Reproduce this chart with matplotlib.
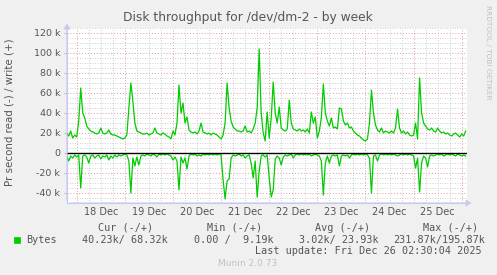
import matplotlib
matplotlib.use("Agg")
import matplotlib.pyplot as plt
from matplotlib.patches import Rectangle, FancyArrowPatch
from matplotlib.transforms import blended_transform_factory
import numpy as np

W, H = 497, 275

# hourly samples, starting 5h before Dec 18 00:00 (values in k bytes/s)
write_k = [20, 17, 22, 15, 18, 16, 32, 65, 40, 35, 27, 24, 22, 21, 20, 19, 20, 25, 20, 19,
           20, 23, 19, 18, 18, 17, 16, 15, 14, 15, 18, 45, 70, 52, 30, 22, 21, 20, 19, 19,
           20, 18, 19, 20, 25, 20, 19, 18, 20, 19, 17, 16, 14, 22, 18, 30, 68, 40, 50, 30,
           36, 23, 21, 20, 21, 19, 22, 30, 21, 20, 19, 20, 18, 20, 19, 18, 16, 14, 18, 30,
           70, 45, 32, 26, 24, 22, 22, 21, 22, 27, 21, 22, 20, 24, 30, 45, 104, 40, 20, 12,
           41, 15, 35, 71, 40, 30, 46, 25, 23, 22, 24, 53, 30, 24, 23, 22, 24, 22, 23, 21,
           24, 20, 41, 30, 36, 15, 22, 35, 69, 40, 32, 27, 35, 25, 26, 24, 45, 44, 32, 28,
           30, 25, 26, 22, 20, 18, 17, 15, 13, 12, 14, 30, 63, 40, 28, 23, 21, 25, 20, 22,
           21, 20, 22, 20, 25, 44, 25, 20, 22, 19, 21, 18, 17, 18, 30, 14, 75, 40, 30, 27,
           24, 23, 25, 22, 21, 25, 22, 20, 21, 19, 20, 18, 17, 19, 20, 18, 16, 19, 17, 22]

read_k = [3, 8, 3, 5, 2, 4, 2, 35, 3, 2, 4, 10, 3, 2, 5, 3, 2, 6, 3, 4,
          2, 7, 3, 5, 2, 4, 2, 3, 2, 1, 2, 8, 40, 5, 13, 4, 12, 3, 2, 3,
          1, 2, 3, 1, 2, 4, 1, 2, 1, 2, 1, 2, 3, 7, 4, 8, 37, 4, 10, 5,
          16, 3, 1, 2, 1, 3, 2, 3, 1, 2, 1, 2, 1, 2, 1, 2, 1, 2, 27, 46,
          28, 26, 5, 2, 3, 2, 1, 3, 2, 5, 3, 2, 10, 25, 8, 44, 18, 3, 2, 4,
          2, 25, 44, 37, 6, 3, 5, 12, 4, 2, 3, 2, 1, 5, 2, 1, 2, 1, 2, 1,
          2, 1, 3, 2, 1, 2, 3, 8, 42, 10, 3, 10, 3, 2, 3, 2, 13, 3, 2, 3,
          2, 5, 2, 1, 2, 1, 2, 1, 2, 1, 2, 5, 40, 3, 2, 8, 2, 1, 2, 1,
          2, 1, 2, 1, 2, 3, 2, 1, 2, 1, 2, 1, 2, 3, 15, 5, 39, 10, 3, 5,
          14, 3, 2, 3, 2, 1, 2, 1, 3, 2, 1, 2, 1, 2, 3, 1, 2, 3, 2, 3]

days = ["18 Dec", "19 Dec", "20 Dec", "21 Dec", "22 Dec", "23 Dec", "24 Dec", "25 Dec"]
y_ticks = [-40, -20, 0, 20, 40, 60, 80, 100, 120]

headers = ["Cur (-/+)", "Min (-/+)", "Avg (-/+)", "Max (-/+)"]
values = ["40.23k/ 68.32k", "0.00 /  9.19k", "3.02k/ 23.93k", "231.87k/195.87k"]

hours = np.arange(len(write_k)) - 5.0
write = np.array(write_k)
read = -np.array(read_k)

GREEN = "#00CC00"
TXT = "#555555"
BG = "#F0F0F0"


def fx(x):
    return x / W


def fy(y):
    return 1 - y / H


fig = plt.figure(figsize=(W / 100, H / 100), dpi=100, facecolor=BG)
ax = fig.add_axes([fx(67), fy(203), fx(467) - fx(67), fy(28) - fy(203)])
ax.set_facecolor("white")
ax.set_xlim(-4.85, 194.65)
ax.set_ylim(-50, 125)

# grid
for h in np.arange(-0, 195, 6):
    if h % 24 != 0:
        ax.axvline(h, color="#c0c0c0", lw=0.6, ls=(0, (1, 2)), zorder=1)
for v in np.arange(-45, 126, 5):
    if v % 20 != 0:
        ax.axhline(v, color="#c0c0c0", lw=0.6, ls=(0, (1, 2)), zorder=1)
for h in np.arange(0, 195, 24):
    ax.axvline(h, color="#dc9c9c", lw=0.7, ls=(0, (1, 2)), zorder=1)
for v in y_ticks:
    if v != 0:
        ax.axhline(v, color="#dc9c9c", lw=0.7, ls=(0, (1, 2)), zorder=1)

ax.plot(hours, write, color=GREEN, lw=0.9, zorder=3)
ax.plot(hours, read, color=GREEN, lw=0.9, zorder=3)
ax.axhline(0, color="black", lw=1.0, zorder=4)

ax.set_yticks(y_ticks)
ax.set_yticklabels([("%d k" % v) if v != 0 else "0" for v in y_ticks], fontsize=6.8, color=TXT)
ax.set_xticks([])
ax.tick_params(axis="y", length=2, color="#bbbbbb", pad=3)
for s in ["top", "right"]:
    ax.spines[s].set_visible(False)
for s in ["left", "bottom"]:
    ax.spines[s].set_color("#c8c8f0")
    ax.spines[s].set_linewidth(0.8)

lbl_tr = blended_transform_factory(ax.transData, fig.transFigure)
for i, d in enumerate(days):
    ax.text(12 + 24 * i, fy(212), d, transform=lbl_tr,
            ha="center", va="center", fontsize=7, color=TXT)

# axis arrows
fig.patches.append(FancyArrowPatch((fx(67), fy(203)), (fx(67), fy(21)), transform=fig.transFigure,
                                   arrowstyle="-|>,head_length=3,head_width=2", color="#c8c8f0", lw=0.8))
fig.patches.append(FancyArrowPatch((fx(67), fy(203)), (fx(474), fy(203)), transform=fig.transFigure,
                                   arrowstyle="-|>,head_length=3,head_width=2", color="#c8c8f0", lw=0.8))

fig.text(fx(248), fy(18), "Disk throughput for /dev/dm-2 - by week", ha="center", va="center",
         fontsize=8.8, color=TXT)
fig.text(fx(10), fy(112), "Pr second read (-) / write (+)", rotation=90, ha="center", va="center",
         fontsize=7.4, color=TXT)
fig.text(fx(488), fy(5), "RRDTOOL / TOBI OETIKER", rotation=270, ha="center", va="top",
         fontsize=5.3, color="#c0c0c0")

mono = dict(family="DejaVu Sans Mono", fontsize=7.3, color=TXT, va="center")
for x, t in zip([98, 207, 315, 423], headers):
    fig.text(fx(x), fy(228), t, ha="left", **mono)
fig.patches.append(Rectangle((fx(14), fy(243)), fx(6), fy(237) - fy(243), transform=fig.transFigure,
                             facecolor=GREEN, edgecolor=GREEN, lw=0.5))
fig.text(fx(26), fy(240), "Bytes", ha="left", **mono)
for x, t in zip([82, 194, 299, 393], values):
    fig.text(fx(x), fy(240), t, ha="left", **mono)
fig.text(fx(482), fy(251), "Last update: Fri Dec 26 02:30:04 2025", ha="right", **mono)
fig.text(fx(248), fy(264), "Munin 2.0.73", ha="center", va="center", fontsize=6.5, color="#c0c0c0")

fig.savefig("out.png", dpi=100, facecolor=BG)
